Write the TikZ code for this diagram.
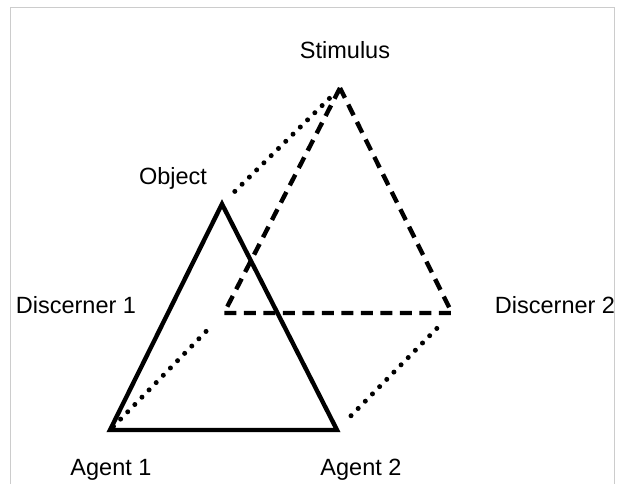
\documentclass[tikz,border=0pt]{standalone}
\usepackage{fontspec}
\setmainfont{Liberation Sans}
\begin{document}
\begin{tikzpicture}[x=1pt, y=-1pt,
    label/.style={font=\fontsize{23.5}{28}\selectfont, inner sep=0pt},
    solidline/.style={line width=4.4pt, line join=miter},
    dashline/.style={line width=4.4pt, dash pattern=on 12pt off 7.5pt},
    dotline/.style={line width=5pt, line cap=round, dash pattern=on 0pt off 10.2pt}]
    \useasboundingbox (0,0) rectangle (625,484);
    \draw [gray!40, line width=1pt] (10,490) -- (10,7.5) -- (614,7.5) -- (614,490);

    \coordinate (obj) at (222,204);
    \coordinate (ag1) at (110,430);
    \coordinate (ag2) at (337,430);
    \coordinate (sti) at (340,88);
    \coordinate (dis1) at (224,313);
    \coordinate (dis2) at (452,313);

    \draw [solidline] (obj) -- (ag1) -- (ag2) -- cycle;
    \draw [dashline] (sti) -- (dis1) -- (dis2) -- cycle;

    \draw [dotline, shorten <=18pt, shorten >=5pt] (obj) -- (sti);
    \draw [dotline, shorten <=5pt, shorten >=18pt] (ag1) -- (dis1);
    \draw [dotline, shorten <=20pt, shorten >=12pt] (ag2) -- (dis2);

    \begin{scope}[every node/.style={label}]
        \node (stilbl) at (345,50) {Stimulus};
        \node (objlbl) at (173,178) {Object};
        \node (dis1lbl) at (76,305) {Discerner 1};
        \node (dis2lbl) at (555,305) {Discerner 2};
        \node (ag1lbl) at (111,470) {Agent 1};
        \node (ag2lbl) at (361,470) {Agent 2};
    \end{scope}
\end{tikzpicture}
\end{document}
